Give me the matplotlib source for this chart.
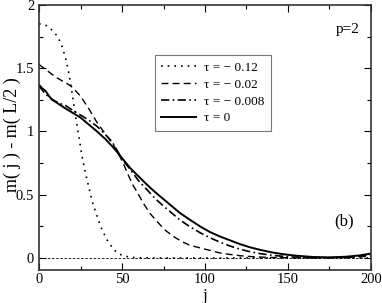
import matplotlib
matplotlib.use("Agg")
import matplotlib.pyplot as plt
from matplotlib.ticker import MultipleLocator, FuncFormatter

plt.rcParams['font.family'] = ['Liberation Serif', 'DejaVu Serif']

# tau = -0.12 (dotted)
j_a = [0, 2, 4, 6, 8, 10, 12, 14, 16, 18, 20, 22, 24, 26, 28, 30, 32, 35, 38, 42, 46, 50, 55, 60, 70, 100, 150, 200]
m_a = [1.85, 1.85, 1.84, 1.82, 1.80, 1.77, 1.73, 1.67, 1.58, 1.46, 1.30, 1.12, 0.96, 0.80, 0.67, 0.56, 0.45, 0.33, 0.22, 0.12, 0.055, 0.02, 0.006, 0.002, 0.0, 0.0, 0.0, 0.0]

# tau = -0.02 (dashed)
j_b = [0, 3, 6, 10, 14, 18, 20, 25, 30, 35, 40, 45, 48, 50, 53, 56, 60, 63, 67, 71, 76, 81, 86, 91, 97, 103, 109, 115, 121, 130, 140, 150, 165, 180, 190, 200]
m_b = [1.53, 1.50, 1.47, 1.43, 1.40, 1.37, 1.35, 1.28, 1.18, 1.07, 0.98, 0.89, 0.82, 0.77, 0.68, 0.59, 0.50, 0.43, 0.35, 0.29, 0.22, 0.17, 0.13, 0.10, 0.08, 0.06, 0.04, 0.028, 0.018, 0.009, 0.004, 0.002, 0.0, 0.002, 0.006, 0.015]

# tau = -0.008 (dash-dot)
j_c = [0, 3, 6, 9, 12, 16, 20, 25, 30, 35, 40, 44, 48, 50, 55, 60, 65, 70, 75, 80, 85, 90, 97, 103, 109, 115, 121, 127, 133, 140, 147, 155, 165, 175, 185, 200]
m_c = [1.36, 1.31, 1.27, 1.245, 1.225, 1.205, 1.17, 1.13, 1.09, 1.04, 0.975, 0.92, 0.83, 0.78, 0.70, 0.61, 0.54, 0.47, 0.41, 0.355, 0.30, 0.255, 0.20, 0.16, 0.125, 0.095, 0.07, 0.05, 0.035, 0.022, 0.013, 0.006, 0.002, 0.002, 0.006, 0.025]

# tau = 0 (solid)
j_d = [0, 2, 4, 6, 8, 11, 15, 20, 25, 30, 35, 40, 45, 50, 55, 60, 65, 70, 75, 80, 85, 90, 97, 103, 109, 115, 121, 127, 133, 140, 147, 155, 165, 175, 185, 193, 200]
m_d = [1.37, 1.34, 1.32, 1.28, 1.25, 1.225, 1.19, 1.15, 1.11, 1.055, 1.00, 0.94, 0.87, 0.79, 0.71, 0.645, 0.58, 0.52, 0.465, 0.41, 0.355, 0.31, 0.25, 0.205, 0.17, 0.14, 0.11, 0.085, 0.065, 0.045, 0.03, 0.018, 0.008, 0.005, 0.01, 0.02, 0.035]

labels = ["τ = − 0.12", "τ = − 0.02", "τ = − 0.008", "τ = 0"]

fig = plt.figure(figsize=(3.82, 3.03), dpi=100)
ax = fig.add_axes([0.1021, 0.1089, 0.8691, 0.8746])

ax.axhline(0, color='black', lw=0.6, ls=(0, (3, 2)), zorder=1)
ax.plot(j_a, m_a, color='black', lw=1.2, ls=(0, (1, 3)), label=labels[0])
ax.plot(j_b, m_b, color='black', lw=1.0, ls=(0, (5, 3)), label=labels[1])
ax.plot(j_c, m_c, color='black', lw=1.2, ls=(0, (5, 2, 1, 2)), label=labels[2])
ax.plot(j_d, m_d, color='black', lw=1.4, ls='-', label=labels[3])

ax.set_xlim(0, 200)
ax.set_ylim(-0.095, 2)
ax.xaxis.set_major_locator(MultipleLocator(50))
ax.xaxis.set_minor_locator(MultipleLocator(25))
ax.yaxis.set_major_locator(MultipleLocator(0.5))
ax.yaxis.set_minor_locator(MultipleLocator(0.25))
ax.yaxis.set_major_formatter(FuncFormatter(lambda v, p: '%g' % v))
ax.tick_params(which='both', direction='in', top=True, right=True, labelsize=10.5, width=0.8)
ax.tick_params(axis='x', which='both', pad=2.5)
ax.tick_params(which='major', length=5)
ax.tick_params(which='minor', length=3)
for s in ax.spines.values():
    s.set_linewidth(1.2)
    s.set_color('#333333')

ax.set_xlabel('j', fontsize=12)
ax.set_ylabel('m( j ) - m( L/2 )', fontsize=13)
ax.xaxis.set_label_coords(0.5, -0.068)
ax.yaxis.set_label_coords(-0.055, 0.51)

ax.text(186, 1.81, 'p=2', fontsize=11, ha='center', va='center')
ax.text(184, 0.29, '(b)', fontsize=12, ha='center', va='center')

leg = ax.legend(loc='upper left', bbox_to_anchor=(0.349, 0.811), fontsize=9.5,
                frameon=True, fancybox=False, edgecolor='#555555',
                handlelength=2.6, handletextpad=0.6, borderpad=0.5,
                labelspacing=0.35, borderaxespad=0)
leg.get_frame().set_linewidth(0.8)

fig.savefig('out.png', dpi=100)
